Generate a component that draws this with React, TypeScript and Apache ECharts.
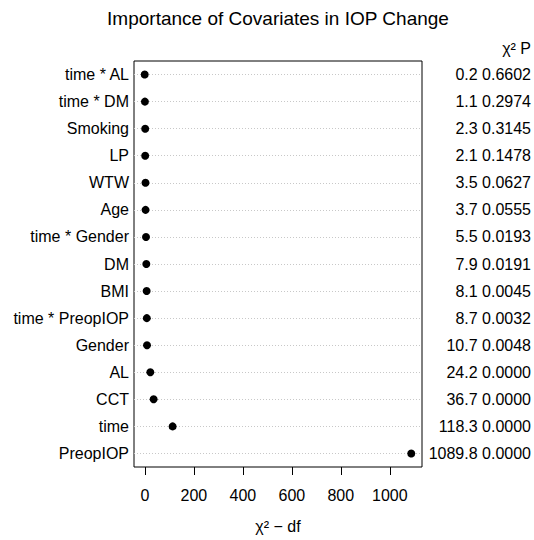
import React, { useEffect, useRef } from "react";
import * as echarts from "echarts";

const categories = [
  "time * AL",
  "time * DM",
  "Smoking",
  "LP",
  "WTW",
  "Age",
  "time * Gender",
  "DM",
  "BMI",
  "time * PreopIOP",
  "Gender",
  "AL",
  "CCT",
  "time",
  "PreopIOP",
];
const chiSq = [0.2, 1.1, 2.3, 2.1, 3.5, 3.7, 5.5, 7.9, 8.1, 8.7, 10.7, 24.2, 36.7, 118.3, 1089.8];
const pValues = [0.6602, 0.2974, 0.3145, 0.1478, 0.0627, 0.0555, 0.0193, 0.0191, 0.0045, 0.0032, 0.0048, 0.0, 0.0, 0.0, 0.0];
const chiMinusDf = [-0.8, 0.1, 1.3, 1.1, 2.5, 2.7, 4.5, 5.9, 7.1, 7.7, 8.7, 22.2, 35.7, 113.3, 1087.8];
const xTicks = [0, 200, 400, 600, 800, 1000];

const FONT = "'Liberation Sans', Arial, sans-serif";

export default function App() {
  const ref = useRef<HTMLDivElement>(null);
  useEffect(() => {
    if (!ref.current) return;
    const chart = echarts.init(ref.current, undefined, { renderer: "svg" });
    const points = chiMinusDf.map((v, i) => [v, categories[i]]);
    chart.setOption({
      animation: false,
      backgroundColor: "#fff",
      textStyle: { fontFamily: FONT },
      grid: {
        left: 134,
        right: 112,
        top: 61,
        bottom: 73,
        show: true,
        borderColor: "#000",
        borderWidth: 1,
        backgroundColor: "transparent",
      },
      graphic: [
        {
          type: "text",
          x: 278,
          y: 18,
          style: {
            text: "Importance of Covariates in IOP Change",
            fontSize: 19,
            fontFamily: FONT,
            fill: "#000",
            align: "center",
            verticalAlign: "middle",
          },
        },
        {
          type: "text",
          x: 531,
          y: 48,
          style: {
            text: "χ² P",
            fontSize: 16,
            fontFamily: FONT,
            fill: "#000",
            align: "right",
            verticalAlign: "middle",
          },
        },
        {
          type: "text",
          x: 278,
          y: 526,
          style: {
            text: "χ² − df",
            fontSize: 16,
            fontFamily: FONT,
            fill: "#000",
            align: "center",
            verticalAlign: "middle",
          },
        },
      ],
      xAxis: {
        type: "value",
        min: -44.5,
        max: 1131.6,
        axisLine: { show: false },
        splitLine: { show: false },
        axisTick: {
          show: true,
          length: 8,
          customValues: xTicks,
          lineStyle: { color: "#000", width: 1 },
        },
        axisLabel: {
          customValues: xTicks,
          fontSize: 16,
          color: "#000",
          fontFamily: FONT,
          margin: 20,
          formatter: (v: number) => String(v),
        },
      },
      yAxis: [
        {
          type: "category",
          data: categories,
          inverse: true,
          axisLine: { show: false },
          axisTick: { show: false },
          splitLine: { show: false },
          axisLabel: { fontSize: 16, color: "#000", fontFamily: FONT, margin: 5 },
        },
        {
          type: "category",
          data: categories,
          inverse: true,
          position: "right",
          axisLine: { show: false },
          axisTick: { show: false },
          splitLine: { show: false },
          axisLabel: {
            fontSize: 16,
            color: "#000",
            fontFamily: FONT,
            align: "right",
            margin: 109,
            formatter: (_v: string, idx: number) =>
              `${chiSq[idx].toFixed(1)} ${pValues[idx].toFixed(4)}`,
          },
        },
      ],
      series: [
        {
          type: "scatter",
          data: points,
          symbolSize: 0,
          silent: true,
          z: 1,
          markLine: {
            silent: true,
            z: 1,
            symbol: ["none", "none"],
            label: { show: false },
            lineStyle: { color: "#c8c8c8", type: [1, 2], width: 1 },
            data: categories.map((c) => ({ yAxis: c })),
          },
        },
        {
          type: "scatter",
          data: points,
          symbol: "circle",
          symbolSize: 8,
          itemStyle: { color: "#000", opacity: 1 },
          z: 10,
        },
      ],
    });
    return () => chart.dispose();
  }, []);
  return (
    <div
      ref={ref}
      style={{ position: "absolute", left: 0, top: 0, width: 534, height: 540 }}
    />
  );
}
